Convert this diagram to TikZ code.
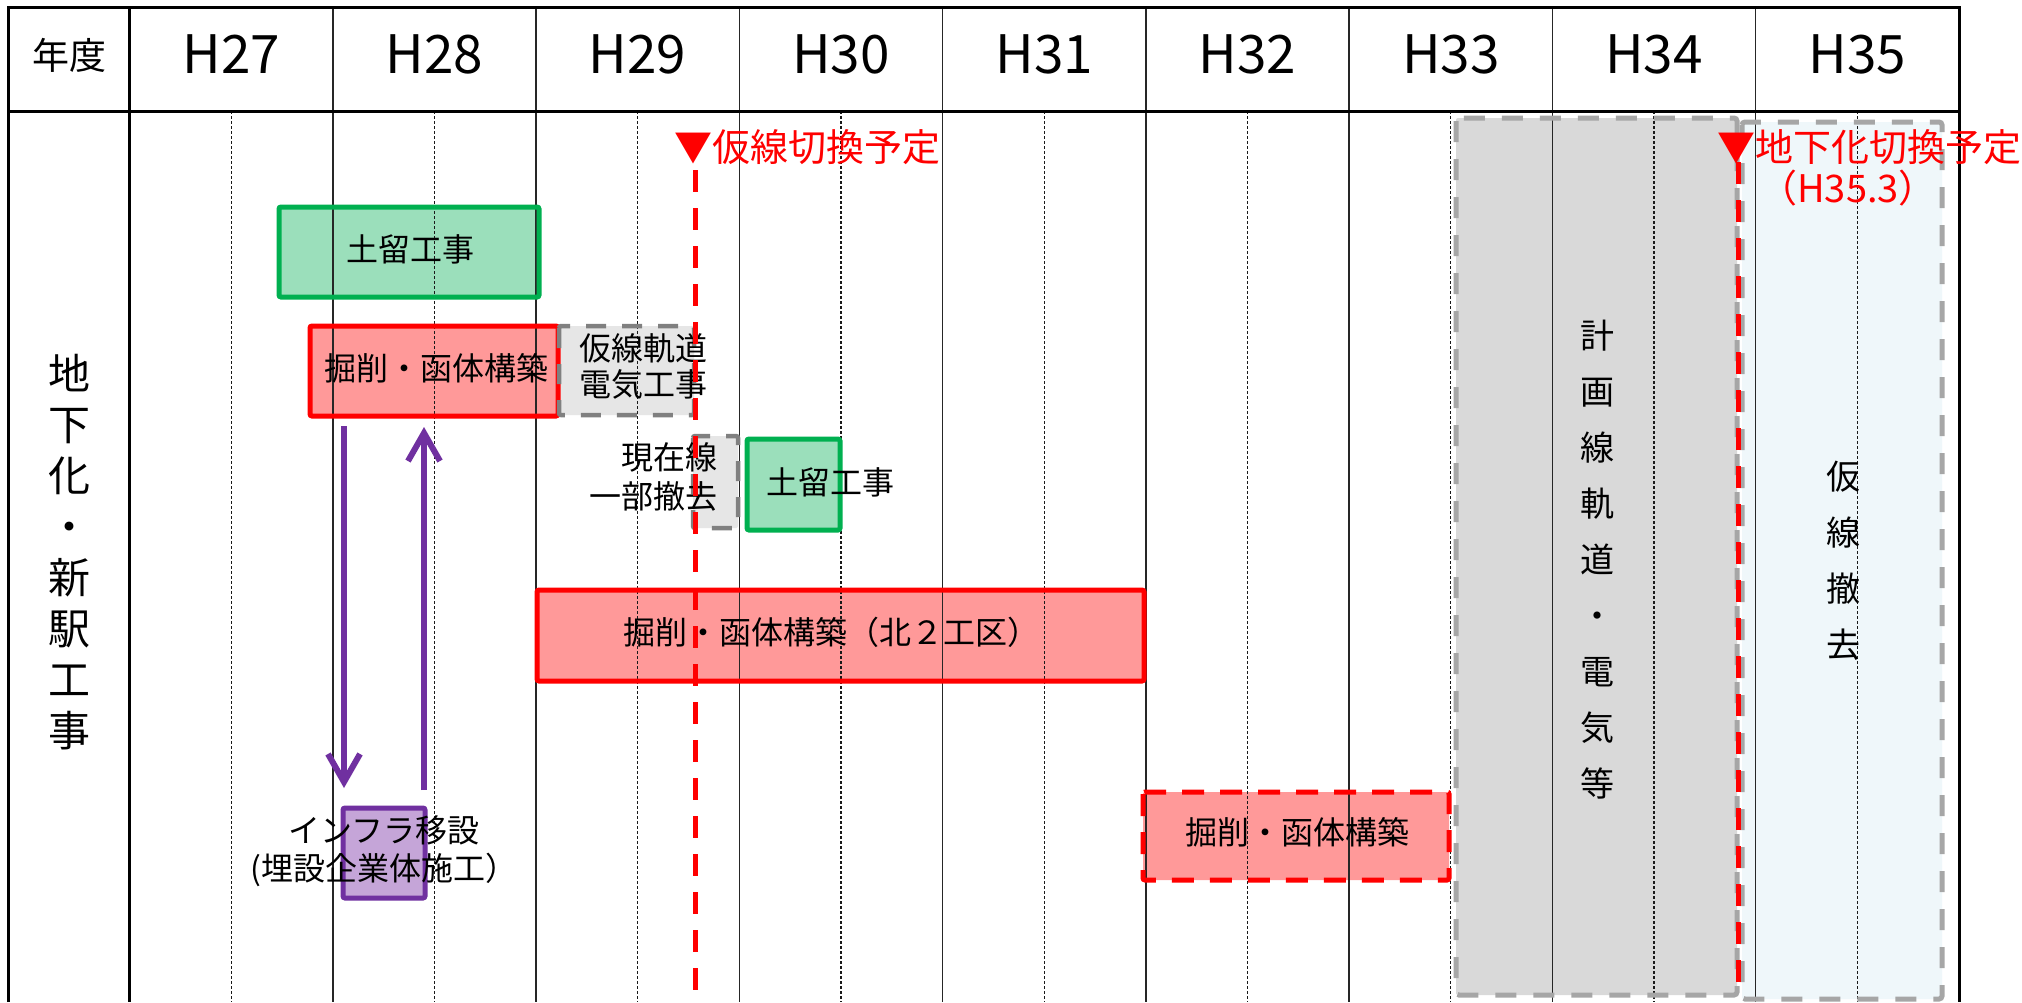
\documentclass[tikz,border=0pt]{standalone}
\usepackage{fontspec}
\setmainfont{Noto Sans CJK JP}
\usetikzlibrary{arrows.meta,calc}
\pgfdeclarelayer{fills}
\pgfsetlayers{fills,main}
\definecolor{rfill}{RGB}{255,153,153}
\definecolor{rline}{RGB}{255,0,0}
\definecolor{gfill}{RGB}{155,223,187}
\definecolor{gline}{RGB}{0,176,80}
\definecolor{sfill}{RGB}{230,230,230}
\definecolor{sline}{RGB}{128,128,128}
\definecolor{bfill}{RGB}{217,217,217}
\definecolor{bline}{RGB}{166,166,166}
\definecolor{lbfill}{RGB}{239,247,250}
\definecolor{pfill}{RGB}{197,165,216}
\definecolor{pline}{RGB}{112,48,160}
\begin{document}
\begin{tikzpicture}[x=1pt,y=-1pt,
  every node/.style={inner sep=0pt,outer sep=0pt},
  box/.style={rectangle,rounded corners=2pt},
  gridthick/.style={line width=3pt,black},
  gridthin/.style={line width=1.5pt,black!85},
  griddot/.style={line width=1.2pt,black!90,dash pattern=on 3pt off 2pt},
  rbord/.style={draw=rline,line width=5pt,rounded corners=2pt},
  rdbord/.style={draw=rline,line width=5pt,dash pattern=on 22pt off 16pt,rounded corners=2pt},
  gbord/.style={draw=gline,line width=5pt,rounded corners=2pt},
  sbord/.style={draw=sline,line width=4.5pt,dash pattern=on 20pt off 16pt,rounded corners=2pt},
  bbord/.style={draw=bline,line width=5pt,dash pattern=on 21pt off 17pt,rounded corners=3pt},
  pbord/.style={draw=pline,line width=5pt,rounded corners=2pt},
  rdash/.style={draw=rline,line width=5pt,dash pattern=on 22pt off 16pt},
  parr/.style={draw=pline,line width=6pt,-{Straight Barb[length=28pt,width=32pt]}},
  tx/.style={font=\fontsize{32}{36}\selectfont,align=center},
  txb/.style={font=\fontsize{32}{39}\selectfont,align=right},
  txp/.style={font=\fontsize{32}{38}\selectfont,align=center},
  hdr/.style={font=\fontsize{53}{60}\selectfont},
  nendo/.style={font=\fontsize{37}{42}\selectfont},
  vlbl/.style={font=\fontsize{42}{51}\selectfont,align=center},
  vbox/.style={font=\fontsize{34}{56}\selectfont,align=center},
  rtxt/.style={font=\fontsize{38}{42}\selectfont,text=rline}
]
\useasboundingbox (0,0) rectangle (2022,1002);
\begin{pgfonlayer}{fills}
\fill[white] (0,0) rectangle (2022,1002);
\node[box,fill=gfill,minimum width=260pt,minimum height=90pt] (g1) at (409,252) {};
\node[box,fill=rfill,minimum width=248pt,minimum height=90pt] (r1) at (434,371) {};
\node[box,fill=sfill,minimum width=135pt,minimum height=89pt] (s1) at (626.5,370.5) {};
\node[box,fill=sfill,minimum width=45pt,minimum height=92pt] (s2) at (715.5,482) {};
\node[box,fill=gfill,minimum width=93pt,minimum height=91pt] (g2) at (793.5,484.5) {};
\node[box,fill=rfill,minimum width=607pt,minimum height=91pt] (r2) at (840.5,635.5) {};
\node[box,fill=rfill,minimum width=306pt,minimum height=88pt] (r3) at (1296,836) {};
\node[box,fill=pfill,minimum width=82pt,minimum height=90pt] (p1) at (384,853) {};
\node[box,fill=bfill,minimum width=281pt,minimum height=877pt] (big) at (1596.5,556.5) {};
\node[box,fill=lbfill,minimum width=200pt,minimum height=877pt] (lb) at (1842,560.5) {};
\end{pgfonlayer}
% grid
\foreach \i in {0,...,8} \draw[griddot] ({129.5+203.27*(\i+0.5)},111) -- ({129.5+203.27*(\i+0.5)},1002);
\foreach \i in {1,...,8} \draw[gridthin] ({129.5+203.27*\i},7) -- ({129.5+203.27*\i},1002);
\draw[gridthick] (8,1002) -- (8,7) -- (1959,7) -- (1959,1002);
\draw[gridthick] (8,111) -- (1959,111);
\draw[gridthick] (129.5,7) -- (129.5,1002);
% header
\node[nendo] (nd) at (69,55) {年度};
\foreach \n [count=\i from 0] in {27,...,35}
  \node[hdr] (h\n) at ({129.5+203.27*(\i+0.5)},54) {H\n};
\node[vlbl] (lbl) at (69,552) {地\\下\\化\\・\\新\\駅\\工\\事};
% borders
\draw[bbord] (big.north west) rectangle (big.south east);
\draw[bbord] (lb.north west) rectangle (lb.south east);
\draw[gbord] (g1.north west) rectangle (g1.south east);
\draw[rbord] (r1.north west) rectangle (r1.south east);
\draw[sbord] (s1.north west) rectangle (s1.south east);
\draw[sbord] (s2.north west) rectangle (s2.south east);
\draw[gbord] (g2.north west) rectangle (g2.south east);
\draw[rbord] (r2.north west) rectangle (r2.south east);
\draw[rdbord] (r3.north west) rectangle (r3.south east);
\draw[pbord] (p1.north west) rectangle (p1.south east);
% texts
\node[tx] (g1t) at (410,249) {土留工事};
\node[tx] (r1t) at (436,368) {掘削・函体構築};
\node[tx] (s1t) at (643,366) {仮線軌道\\電気工事};
\node[txb,anchor=east] (s2t) at (717,477) {現在線\\一部撤去};
\node[tx] (g2t) at (830,482) {土留工事};
\node[tx] (r2t) at (831,632) {掘削・函体構築（北２工区）};
\node[tx] (r3t) at (1297,832) {掘削・函体構築};
\node[txp] (p1t) at (384,851) {インフラ移設\\(埋設企業体施工）};
\node[vbox] (bigt) at (1597,560) {計\\画\\線\\軌\\道\\・\\電\\気\\等};
\node[vbox] (lbt) at (1843,561) {仮\\線\\撤\\去};
% arrows
\draw[parr] ($(r1.south west)+(34,10)$) -- ($(p1.north west)+(1,-20)$);
\draw[parr] ($(p1.north east)+(-1,-18)$) -- ($(r1.south west)+(114,11)$);
% switch lines
\node[rtxt,anchor=west] (sw1) at (674,147) {▼仮線切換予定};
\coordinate (sw1top) at (695,170);
\coordinate (sw1bot) at (695,1002);
\draw[rdash] (sw1top) -- (sw1bot);
\node[rtxt,anchor=west] (sw2) at (1717,147) {▼地下化切換予定};
\node[rtxt] (sw2d) at (1848,188) {（H35.3）};
\coordinate (sw2top) at (1738,162);
\coordinate (sw2bot) at (1738,985);
\draw[rdash] (sw2top) -- (sw2bot);
\end{tikzpicture}
\end{document}
